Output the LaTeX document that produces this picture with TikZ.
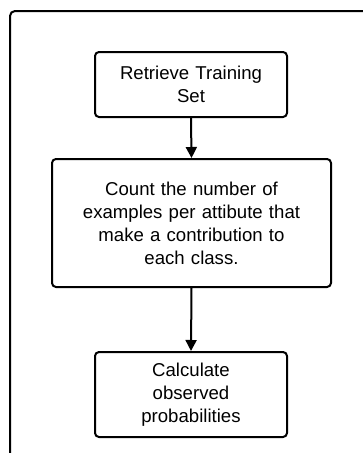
\documentclass[tikz,border=0pt]{standalone}
\usepackage{fontspec}
\setmainfont{Liberation Sans}
\usetikzlibrary{arrows.meta}
\tikzset{
  stepbox/.style={draw=black, line width=2pt, rounded corners=4pt, align=center,
    inner sep=0pt, font=\fontsize{18.6}{23}\selectfont},
  flow/.style={line width=2pt, -{Triangle[length=11pt,width=11pt]}}
}
\begin{document}
\begin{tikzpicture}[x=1pt,y=-1pt]
\useasboundingbox (0,0) rectangle (363,453);
\clip (0,0) rectangle (363,453);
\fill[white] (0,0) rectangle (363,453);
\draw[line width=2pt, rounded corners=5pt] (10,11) rectangle (400,500);
\node[stepbox, minimum width=192pt, minimum height=65pt, text width=180pt] (a) at (191,84.5) {Retrieve Training\\Set};
\node[stepbox, minimum width=279pt, minimum height=128pt, text width=265pt] (b) at (191.5,223) {Count the number of\\examples per attibute that\\make a contribution to\\each class.};
\node[stepbox, minimum width=192pt, minimum height=85pt, text width=180pt] (c) at (191,394.5) {Calculate\\observed\\probabilities};
\draw[flow] (a.south) -- (b.north);
\draw[flow] (b.south) -- (c.north);
\end{tikzpicture}
\end{document}
